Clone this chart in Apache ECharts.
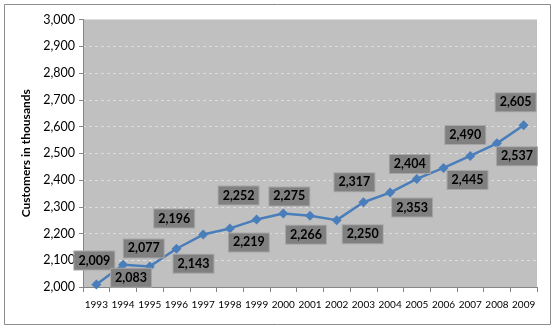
<!DOCTYPE html>
<html>
<head>
<meta charset="utf-8">
<script src="https://cdn.jsdelivr.net/npm/echarts@6/dist/echarts.min.js"></script>
<style>
html,body{margin:0;padding:0;background:#fff;}
#c{width:555px;height:329px;}
</style>
</head>
<body>
<div id="c"></div>
<script>
var years = ['1993','1994','1995','1996','1997','1998','1999','2000','2001','2002','2003','2004','2005','2006','2007','2008','2009'];
var customers = [2009, 2083, 2077, 2143, 2196, 2219, 2252, 2275, 2266, 2250, 2317, 2353, 2404, 2445, 2490, 2537, 2605];
var labelOffsets = [[-2,-24],[8,13],[-6,-18],[17,15],[-29,-16],[19,14],[-18,-24],[6,-17],[-4,19],[26,14],[-9,-20],[22,15],[-7,-15],[24,12],[-5,-21],[20,13],[-8,-23]];
var yMin = 2000, yMax = 3000, yStep = 100;

function fmt(v){ return v.toString().replace(/\B(?=(\d{3})+(?!\d))/g, ','); }

var chart = echarts.init(document.getElementById('c'), null, {renderer:'canvas'});
var data = customers.map(function(v,i){
  return {value: v, label: {offset: labelOffsets[i]}};
});
chart.setOption({
  animation: false,
  backgroundColor: '#ffffff',
  graphic: [{
    type: 'rect', shape: {x: 4.5, y: 4.5, width: 546, height: 320},
    style: {fill: 'none', stroke: '#8c8c8c', lineWidth: 1}, z: -1
  }],
  grid: {left: 83, right: 18, top: 19.5, bottom: 42, show: true, backgroundColor: '#c0c0c0', borderWidth: 0},
  xAxis: {
    type: 'category', data: years, boundaryGap: true,
    axisLine: {lineStyle: {color: '#868686'}},
    axisTick: {show: true, alignWithLabel: false, length: 5, lineStyle: {color: '#868686'}},
    axisLabel: {color: '#000', fontFamily: 'Lato', fontSize: 10, margin: 13, interval: 0}
  },
  yAxis: {
    type: 'value', min: yMin, max: yMax, interval: yStep,
    name: 'Customers in thousands', nameLocation: 'middle', nameGap: 48,
    nameTextStyle: {color: '#000', fontFamily: 'Lato', fontWeight: 'bold', fontSize: 12},
    axisLine: {show: true, lineStyle: {color: '#868686'}},
    axisTick: {show: true, length: 4, lineStyle: {color: '#868686'}},
    axisLabel: {color: '#000', fontFamily: 'Lato', fontSize: 12.5, margin: 8, formatter: fmt},
    splitLine: {show: true, lineStyle: {color: '#dcdcdc', type: [3,3], width: 1}}
  },
  series: [{
    type: 'line', data: data,
    symbol: 'diamond', symbolSize: 10,
    lineStyle: {color: '#4a7ebb', width: 2.5},
    itemStyle: {color: '#4a7ebb'},
    label: {
      show: true, position: 'inside',
      formatter: function(p){ return fmt(p.value); },
      color: '#000', fontFamily: 'Lato', fontWeight: 'bold', fontSize: 12.5,
      backgroundColor: '#808080', borderColor: '#a6a6a6', borderWidth: 1,
      padding: [3, 4, 2, 4]
    }
  }]
});
</script>
</body>
</html>
